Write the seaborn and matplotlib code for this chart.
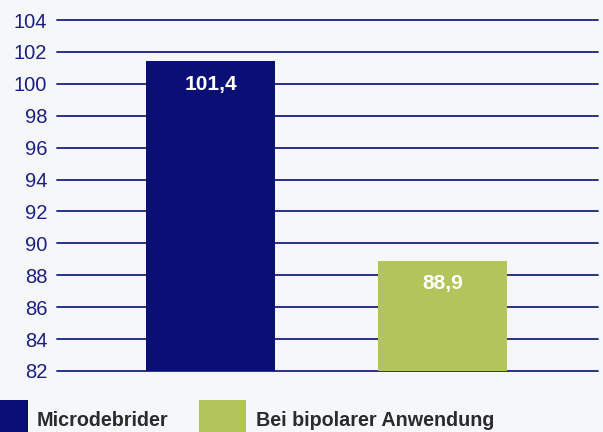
import matplotlib.pyplot as plt
import seaborn as sns
import pandas as pd
from matplotlib.patches import Rectangle

# Data
categories = ['Microdebrider', 'Bei bipolarer Anwendung']
values = [101.4, 88.9]
value_labels = ['101,4', '88,9']
colors = ['#0a0f78', '#b2c45a']
yticks = list(range(82, 105, 2))

bg = '#f6f7fb'
navy = '#1c1f82'

sns.set_style('white')
plt.rcParams['font.family'] = ['Liberation Sans', 'DejaVu Sans']

df = pd.DataFrame({'cat': categories, 'val': values})

fig = plt.figure(figsize=(6.03, 4.32), dpi=100, facecolor=bg)
ax = fig.add_axes([57 / 603, 1 - 371 / 432, 541 / 603, 351 / 432])
ax.set_facecolor(bg)

sns.barplot(data=df, x='cat', y='val', hue='cat', palette=colors,
            dodge=False, legend=False, width=0.555, saturation=1,
            linewidth=0, ax=ax)

ax.set_ylim(82, 104)
ax.set_xlim(-0.66, 1.667)
ax.set_yticks(yticks)
ax.set_yticklabels([str(t) for t in yticks])
ax.set_xticks([])
ax.set_xlabel('')
ax.set_ylabel('')
ax.tick_params(axis='y', length=0, pad=7, labelsize=14.5, labelcolor=navy)
for s in ax.spines.values():
    s.set_visible(False)
ax.set_axisbelow(True)
ax.yaxis.grid(True, color=navy, linewidth=1.3)
for gl in ax.get_ygridlines():
    gl.set_clip_on(False)

for i, (v, lab) in enumerate(zip(values, value_labels)):
    ax.annotate(lab, xy=(i, v), xytext=(0, -16.5), textcoords='offset points',
                ha='center', va='center', color='white', fontsize=15,
                fontweight='bold')

# Legend
legend_items = [(0, 28, 37), (199, 47, 256)]
for (bx, bw, tx), cat, col in zip(legend_items, categories, colors):
    fig.patches.append(Rectangle((bx / 603, 0), bw / 603, 32 / 432,
                                 transform=fig.transFigure, facecolor=col,
                                 edgecolor='none', figure=fig))
    fig.text(tx / 603, 1 - 421 / 432, cat, ha='left', va='center',
             fontsize=14.2, fontweight='bold', color='#2b2b2b')

fig.savefig('out.png', dpi=100, facecolor=bg)
